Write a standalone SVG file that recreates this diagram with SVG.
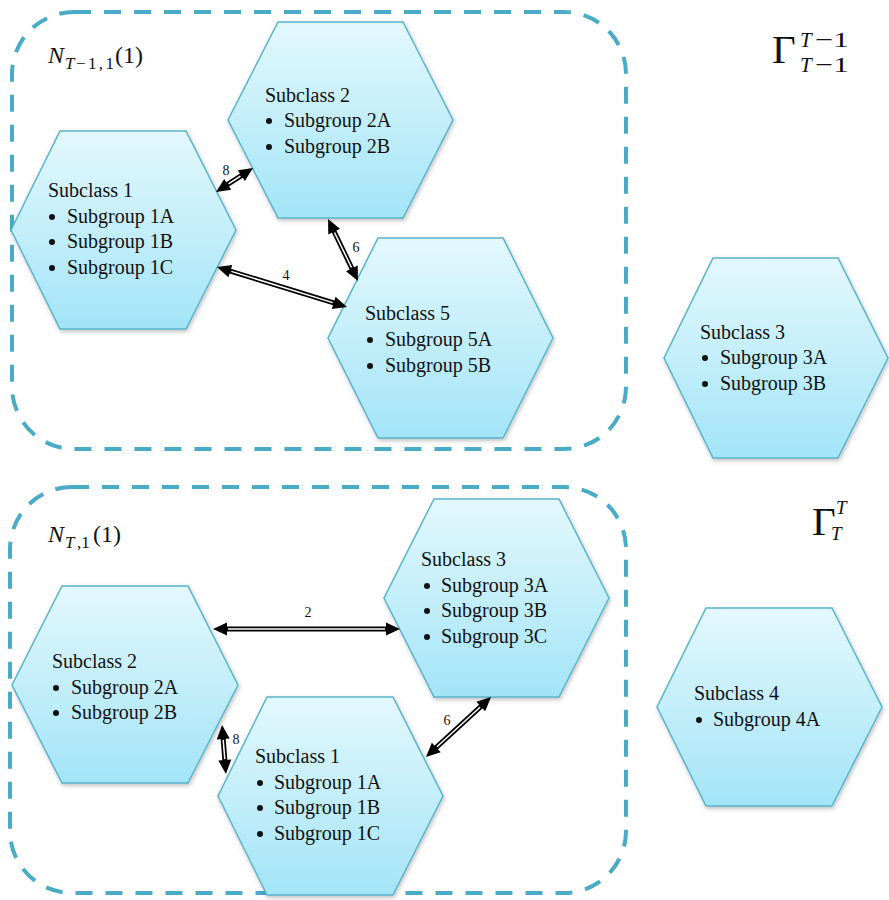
<svg xmlns="http://www.w3.org/2000/svg" width="889" height="900" viewBox="0 0 889 900">
<defs>
<linearGradient id="hexfill" x1="0" y1="0" x2="0" y2="1">
<stop offset="0" stop-color="#e3f8fd"/>
<stop offset="1" stop-color="#a3e4f7"/>
</linearGradient>
<filter id="shadow" x="-10%" y="-10%" width="120%" height="125%">
<feDropShadow dx="1" dy="2" stdDeviation="2" flood-color="#000" flood-opacity="0.25"/>
</filter>
<marker id="head" viewBox="-2 -8 17 16" markerWidth="17" markerHeight="16" refX="0" refY="0" orient="auto-start-reverse" markerUnits="userSpaceOnUse">
<path d="M-1,-6.5 L13,0 L-1,6.5 z" fill="#000"/>
</marker>
</defs>
<style>
.group{fill:none;stroke:#4aabc6;stroke-width:4;stroke-dasharray:17 13}
.hex{fill:url(#hexfill);stroke:#5ab3cb;stroke-width:1.5;filter:url(#shadow)}
.t{font-family:"Liberation Serif","Times New Roman",serif;font-size:20px;fill:#111}
.b{fill:#111}
.shaft{fill:none;stroke:#000;stroke-width:5;marker-start:url(#head);marker-end:url(#head)}
.inner{fill:none;stroke:#fff;stroke-width:1.5}
.lbl{font-family:"Liberation Serif","Times New Roman",serif;font-size:14px;fill:#111;text-anchor:middle}
.m{font-family:"Liberation Serif","Times New Roman",serif;fill:#111}
</style>

<g id="groups">
<rect id="group-top" class="group" x="12" y="12" width="614" height="437" rx="62" ry="62"/>
<rect id="group-bottom" class="group" x="10" y="487" width="616" height="406" rx="62" ry="62"/>
</g>

<g id="label-N-top" class="m">
<text x="48" y="63" font-size="24" font-style="italic">N</text>
<text x="65" y="69" font-size="17" font-style="italic">T</text>
<text x="76" y="69" font-size="17" textLength="38">−1,1</text>
<text x="115" y="63" font-size="24">(1)</text>
</g>
<g id="label-N-bottom" class="m">
<text x="48" y="542" font-size="24" font-style="italic">N</text>
<text x="65" y="548" font-size="17" font-style="italic">T</text>
<text x="77" y="548" font-size="17">,1</text>
<text x="93" y="542" font-size="24">(1)</text>
</g>
<g id="label-gamma-top" class="m">
<text x="772" y="63" font-size="41">Γ</text>
<text x="800" y="47" font-size="21" font-style="italic">T</text>
<text x="815" y="47" font-size="22" textLength="34" lengthAdjust="spacingAndGlyphs">−1</text>
<text x="800" y="72" font-size="21" font-style="italic">T</text>
<text x="815" y="72" font-size="22" textLength="34" lengthAdjust="spacingAndGlyphs">−1</text>
</g>
<g id="label-gamma-bottom" class="m">
<text x="812" y="535" font-size="41">Γ</text>
<text x="836" y="514" font-size="19" font-style="italic">T</text>
<text x="831" y="540" font-size="19" font-style="italic">T</text>
</g>

<g id="node-top-subclass2">
<polygon class="hex" points="278,22 403,22 453,120 403,218 278,218 228,120"/>
<text class="t" x="265" y="102">Subclass 2</text>
<circle class="b" cx="269" cy="121" r="3"/><text class="t" x="284" y="127">Subgroup 2A</text>
<circle class="b" cx="269" cy="147" r="3"/><text class="t" x="284" y="153">Subgroup 2B</text>
</g>

<g id="node-top-subclass1">
<polygon class="hex" points="60,131 186,131 236,230 186,329 60,329 11,230"/>
<text class="t" x="48" y="197">Subclass 1</text>
<circle class="b" cx="52" cy="217" r="3"/><text class="t" x="67" y="223">Subgroup 1A</text>
<circle class="b" cx="52" cy="242" r="3"/><text class="t" x="67" y="248">Subgroup 1B</text>
<circle class="b" cx="52" cy="268" r="3"/><text class="t" x="67" y="274">Subgroup 1C</text>
</g>

<g id="node-top-subclass5">
<polygon class="hex" points="378,238 503,238 553,338 503,438 378,438 328,338"/>
<text class="t" x="365" y="320">Subclass 5</text>
<circle class="b" cx="370" cy="340" r="3"/><text class="t" x="385" y="346">Subgroup 5A</text>
<circle class="b" cx="370" cy="366" r="3"/><text class="t" x="385" y="372">Subgroup 5B</text>
</g>

<g id="node-top-subclass3">
<polygon class="hex" points="713,258 838,258 888,358 838,458 713,458 664,358"/>
<text class="t" x="700" y="339">Subclass 3</text>
<circle class="b" cx="705" cy="358" r="3"/><text class="t" x="720" y="364">Subgroup 3A</text>
<circle class="b" cx="705" cy="384" r="3"/><text class="t" x="720" y="390">Subgroup 3B</text>
</g>

<g id="node-bottom-subclass3">
<polygon class="hex" points="434,499 559,499 609,598 559,697 434,697 384,598"/>
<text class="t" x="421" y="566">Subclass 3</text>
<circle class="b" cx="427" cy="586" r="3"/><text class="t" x="441" y="592">Subgroup 3A</text>
<circle class="b" cx="427" cy="611" r="3"/><text class="t" x="441" y="617">Subgroup 3B</text>
<circle class="b" cx="427" cy="637" r="3"/><text class="t" x="441" y="643">Subgroup 3C</text>
</g>

<g id="node-bottom-subclass2">
<polygon class="hex" points="62,586 188,586 238,685 188,783 62,783 12,685"/>
<text class="t" x="52" y="668">Subclass 2</text>
<circle class="b" cx="56" cy="688" r="3"/><text class="t" x="71" y="694">Subgroup 2A</text>
<circle class="b" cx="56" cy="713" r="3"/><text class="t" x="71" y="719">Subgroup 2B</text>
</g>

<g id="node-bottom-subclass1">
<polygon class="hex" points="267,697 393,697 443,796 393,895 267,895 218,796"/>
<text class="t" x="255" y="763">Subclass 1</text>
<circle class="b" cx="260" cy="783" r="3"/><text class="t" x="274" y="789">Subgroup 1A</text>
<circle class="b" cx="260" cy="808" r="3"/><text class="t" x="274" y="814">Subgroup 1B</text>
<circle class="b" cx="260" cy="834" r="3"/><text class="t" x="274" y="840">Subgroup 1C</text>
</g>

<g id="node-subclass4">
<polygon class="hex" points="706,608 832,608 882,707 832,806 706,806 657,707"/>
<text class="t" x="694" y="700">Subclass 4</text>
<circle class="b" cx="699" cy="720" r="3"/><text class="t" x="713" y="726">Subgroup 4A</text>
</g>

<g id="connectors">
<path class="shaft" d="M226.9,184.9 L242.1,175.1"/>
<path class="inner" d="M228.6,183.8 L240.4,176.2"/>
<text class="lbl" x="226" y="175">8</text>

<path class="shaft" d="M333.7,230.7 L352.3,269.3"/>
<path class="inner" d="M334.5,232.5 L351.5,267.5"/>
<text class="lbl" x="356" y="252">6</text>

<path class="shaft" d="M229.4,270.8 L334.6,303.2"/>
<path class="inner" d="M231.3,271.4 L332.7,302.6"/>
<text class="lbl" x="286" y="280">4</text>

<path class="shaft" d="M226,629 L387,629"/>
<path class="inner" d="M228,629 L385,629"/>
<text class="lbl" x="308" y="617">2</text>

<path class="shaft" d="M481.5,705.8 L435.5,748.2"/>
<path class="inner" d="M480,707.2 L437,746.8"/>
<text class="lbl" x="447" y="725">6</text>

<path class="shaft" d="M223.1,738 L224.9,761"/>
<path class="inner" d="M223.2,739.9 L224.8,759.1"/>
<text class="lbl" x="236" y="744">8</text>
</g>
</svg>
